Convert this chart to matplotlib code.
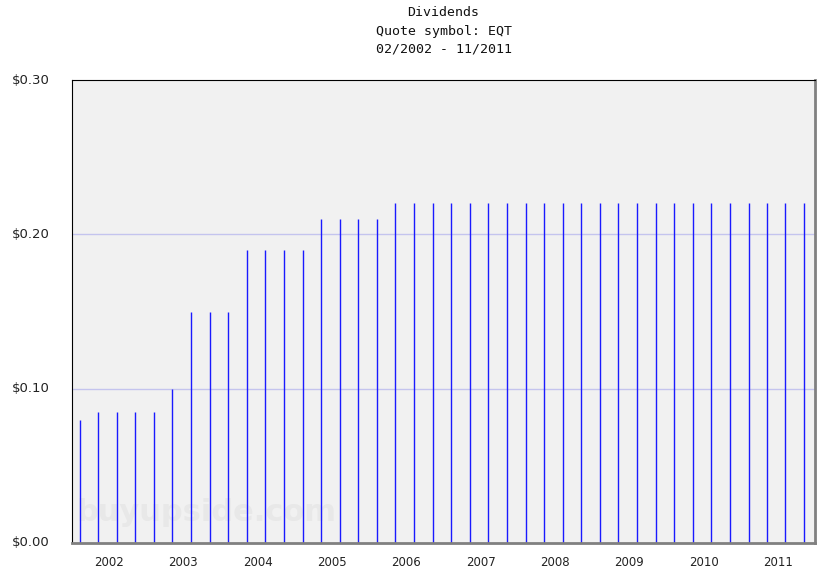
import matplotlib
matplotlib.use("Agg")
import matplotlib.pyplot as plt
import matplotlib.dates as mdates
import datetime as dt

# Data
pay_months = ["2002-02", "2002-05", "2002-08", "2002-11",
              "2003-02", "2003-05", "2003-08", "2003-11",
              "2004-02", "2004-05", "2004-08", "2004-11",
              "2005-02", "2005-05", "2005-08", "2005-11",
              "2006-02", "2006-05", "2006-08", "2006-11",
              "2007-02", "2007-05", "2007-08", "2007-11",
              "2008-02", "2008-05", "2008-08", "2008-11",
              "2009-02", "2009-05", "2009-08", "2009-11",
              "2010-02", "2010-05", "2010-08", "2010-11",
              "2011-02", "2011-05", "2011-08", "2011-11"]
dividends = [0.08, 0.085, 0.085, 0.085,
             0.085, 0.10, 0.15, 0.15,
             0.15, 0.19, 0.19, 0.19,
             0.19, 0.21, 0.21, 0.21,
             0.21, 0.22, 0.22, 0.22,
             0.22, 0.22, 0.22, 0.22,
             0.22, 0.22, 0.22, 0.22,
             0.22, 0.22, 0.22, 0.22,
             0.22, 0.22, 0.22, 0.22,
             0.22, 0.22, 0.22, 0.22]
year_labels = [str(y) for y in range(2002, 2012)]
y_ticks = [0.0, 0.10, 0.20, 0.30]
y_tick_labels = ["$0.00", "$0.10", "$0.20", "$0.30"]

dates = [dt.datetime.strptime(m + "-09", "%Y-%m-%d") for m in pay_months]

fig = plt.figure(figsize=(8.36, 5.78), dpi=100)
fig.patch.set_facecolor("white")
ax = fig.add_axes([72/836, 1-543/578, (815-72)/836, (543-80)/578])
ax.set_facecolor("#f1f1f1")

ax.set_xlim(mdates.date2num(dt.datetime(2002, 1, 1)), mdates.date2num(dt.datetime(2012, 1, 1)))
ax.set_ylim(0, 0.30)

for yv in [0.10, 0.20]:
    ax.axhline(yv, color="#c4c4ee", lw=1, zorder=1)

ax.vlines(mdates.date2num(dates), 0, dividends, colors="#1a1aff", lw=1.0, zorder=2)

# watermark
ax.text(mdates.date2num(dt.datetime(2002, 1, 25)), 0.02, "buyupside.com",
        fontsize=22, fontweight="bold", color="#e8e8e8", family="DejaVu Sans",
        zorder=1.5, va="center", ha="left")

# ticks
mid_years = [mdates.date2num(dt.datetime(int(y), 7, 2)) for y in year_labels]
ax.set_xticks(mid_years)
ax.set_xticklabels(year_labels, fontsize=8.5, color="#222222")
ax.set_yticks(y_ticks)
ax.set_yticklabels(y_tick_labels, fontsize=9.5, color="#222222")
ax.tick_params(axis="x", length=0, pad=9)
ax.tick_params(axis="y", length=0, pad=16)
for lab in ax.get_yticklabels():
    lab.set_verticalalignment("center")

ax.spines["top"].set_color("black")
ax.spines["left"].set_color("black")
ax.spines["top"].set_linewidth(0.8)
ax.spines["left"].set_linewidth(0.8)
ax.spines["bottom"].set_color("#808080")
ax.spines["right"].set_color("#808080")
ax.spines["bottom"].set_linewidth(2)
ax.spines["right"].set_linewidth(2)

cx = (72 + 815) / 2 / 836
for i, t in enumerate(["Dividends", "Quote symbol: EQT", "02/2002 - 11/2011"]):
    fig.text(cx, 1 - (13 + 18 * i) / 578, t, ha="center", va="center",
             family="DejaVu Sans Mono", fontsize=9.5, color="#111111")

fig.savefig("out.png", dpi=100)
